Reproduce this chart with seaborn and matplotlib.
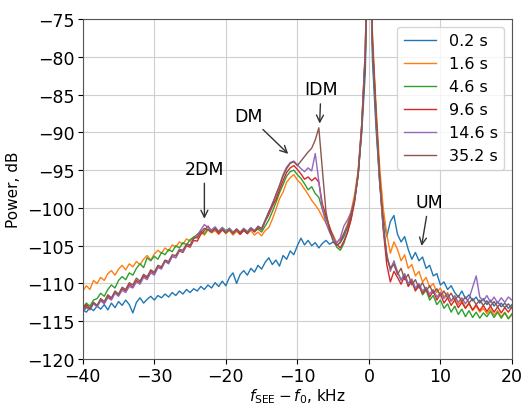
import numpy as np
import pandas as pd
import matplotlib
matplotlib.use("Agg")
import matplotlib.pyplot as plt
import seaborn as sns

# frequency grid, kHz (0.5 kHz sampling from -40 to 20)
freq = np.arange(-40, 20.001, 0.5)

labels = ["0.2 s", "1.6 s", "4.6 s", "9.6 s", "14.6 s", "35.2 s"]

p_02 = [
    -113.5, -113.8, -113.2, -113.6, -113.0, -113.4, -112.8, -113.5, -112.6, -113.2,
    -112.4, -112.9, -112.2, -112.8, -113.9, -112.5, -111.9, -112.6, -112.1, -111.7,
    -112.2, -111.6, -111.9, -111.4, -111.8, -111.2, -111.6, -111.0, -111.4, -110.8,
    -111.2,
    -110.7, -111.0, -110.4, -110.8, -110.2, -110.6, -109.9, -110.4, -109.7, -110.3,
    -109.2, -108.6, -110.0, -108.8, -108.3, -108.9, -108.0, -108.5, -107.6, -108.1,
    -107.2, -106.6, -107.5, -106.9, -107.7, -106.3, -106.8, -105.7, -106.2, -105.0,
    -104.0, -104.9, -104.3, -105.0, -104.6, -105.3, -104.7, -104.3, -104.8, -104.5,
    -105.0, -104.6, -103.8, -102.6, -101.0, -98.8, -95.5, -90.0, -82.0, -58.0,
    -80.5, -89.5, -96.5, -101.0, -103.8, -101.8, -101.0, -103.5, -104.5, -103.8,
    -105.5, -106.8, -105.9, -107.0, -106.5, -108.0, -107.6, -109.0, -108.7, -110.2,
    -109.8, -110.8, -110.3, -111.2, -111.8, -111.0, -112.0, -111.5, -112.3, -111.8,
    -112.6, -112.0, -112.8, -112.2, -113.0, -112.4, -113.1, -112.6, -113.3, -112.8,
]

p_16 = [
    -111.0, -110.3, -110.8, -109.6, -110.0, -109.2, -109.6, -108.7, -108.3, -108.9,
    -108.1, -107.6, -108.2, -107.4, -107.8, -107.1, -107.5, -106.8, -106.3, -106.9,
    -106.1, -105.6, -106.0, -105.3, -105.7, -104.9, -105.2, -104.5, -104.8, -104.1,
    -104.4,
    -103.8, -104.0, -103.2, -103.6, -102.9, -103.3, -103.0, -103.5, -102.9, -103.4,
    -103.0, -103.6, -103.1, -103.5, -102.9, -103.4, -103.0, -103.6, -103.2, -103.7,
    -103.0, -102.6, -101.5, -100.2, -98.8, -97.9, -96.6, -96.0, -95.6, -96.3,
    -96.8, -97.5, -98.2, -99.0, -99.6, -100.3, -101.2, -102.0, -102.9, -103.6,
    -104.6, -104.2, -103.4, -102.2, -100.5, -98.2, -95.0, -88.8, -79.0, -55.0,
    -77.0, -86.5, -94.5, -100.0, -103.5, -106.0, -104.5, -105.5, -107.0, -106.2,
    -108.0, -107.5, -109.0, -108.4, -109.8, -109.2, -110.5, -110.0, -111.2, -110.6,
    -111.8, -111.2, -112.4, -111.8, -112.8, -112.2, -113.2, -112.7, -113.6, -113.0,
    -113.8, -113.3, -114.0, -113.4, -114.2, -113.6, -114.4, -113.8, -114.6, -114.2,
]

p_46 = [
    -113.2, -112.6, -113.0, -112.2, -112.0, -111.3, -111.7, -110.8, -110.2, -110.6,
    -109.6, -109.1, -109.5, -108.6, -108.9, -108.0, -107.4, -107.9, -106.6, -107.0,
    -106.4, -106.8, -105.9, -106.2, -105.5, -105.8, -105.0, -105.3, -104.6, -104.9,
    -104.2,
    -103.9, -103.5, -103.1, -103.4, -102.8, -103.2, -102.7, -103.1, -102.6, -103.0,
    -102.7, -103.2, -102.8, -103.3, -102.9, -103.4, -102.7, -103.1, -102.8, -103.2,
    -102.4, -101.6, -100.5, -99.3, -98.0, -96.9, -95.8, -95.2, -95.0, -95.6,
    -96.1, -96.8, -97.6, -97.2, -98.1, -98.6, -100.2, -101.4, -102.6, -103.8,
    -105.2, -105.6, -104.7, -103.2, -101.4, -99.0, -95.6, -89.5, -80.0, -56.0,
    -79.0, -88.5, -96.5, -102.5, -106.5, -108.0, -107.2, -108.5, -109.5, -108.8,
    -110.2, -109.6, -110.8, -110.2, -111.5, -110.9, -112.2, -111.6, -112.8, -112.2,
    -113.3, -112.7, -113.8, -113.0, -114.1, -113.4, -114.4, -113.6, -114.5, -113.8,
    -114.6, -113.9, -114.4, -113.7, -114.5, -113.8, -114.6, -113.9, -114.7, -114.0,
]

p_96 = [
    -113.4, -112.8, -113.3, -112.6, -113.0, -112.2, -112.6, -111.7, -112.1, -111.2,
    -111.6, -110.7, -111.0, -110.1, -110.5, -109.6, -109.9, -109.0, -109.3, -108.4,
    -108.7, -107.8, -107.9, -107.0, -107.3, -106.4, -106.6, -105.7, -105.9, -105.0,
    -105.2,
    -104.3, -104.4, -103.5, -103.0, -102.4, -103.1, -102.8, -103.4, -102.9, -103.3,
    -102.8, -103.4, -102.9, -103.5, -103.0, -103.4, -102.7, -103.2, -102.6, -102.9,
    -101.8, -100.9, -99.8, -98.9, -97.6, -96.4, -95.3, -94.7, -94.4, -94.9,
    -95.5, -96.2, -95.9, -96.4, -96.0, -96.6, -99.5, -101.0, -102.5, -103.9,
    -104.8, -105.3, -104.4, -103.3, -101.6, -99.2, -95.4, -89.0, -79.5, -54.0,
    -78.0, -87.5, -96.0, -102.8, -107.5, -109.8, -108.4, -109.2, -110.1, -109.0,
    -110.4, -109.7, -111.0, -110.3, -111.3, -110.6, -111.8, -111.0, -112.2, -111.4,
    -112.6, -111.9, -112.9, -112.2, -113.2, -112.5, -113.3, -112.6, -113.5, -112.8,
    -113.6, -112.9, -113.7, -113.0, -113.8, -113.1, -113.9, -113.2, -113.8, -113.1,
]

p_146 = [
    -113.8, -113.2, -113.5, -112.7, -113.1, -112.3, -112.7, -111.9, -112.2, -111.3,
    -111.7, -110.9, -111.2, -110.4, -110.6, -109.8, -110.1, -109.2, -109.5, -108.6,
    -108.9, -107.9, -108.1, -107.1, -107.4, -106.4, -106.6, -105.6, -105.8, -104.8,
    -105.0,
    -104.1, -103.6, -102.9, -102.2, -102.6, -102.9, -102.5, -103.1, -102.6, -103.2,
    -102.7, -103.3, -102.8, -103.2, -102.7, -103.1, -102.6, -103.0, -102.4, -102.8,
    -101.6, -100.6, -99.4, -98.4, -97.0, -95.6, -94.6, -94.0, -93.8, -94.3,
    -94.8, -95.2, -94.7, -95.1, -92.8, -96.5, -100.2, -102.0, -103.2, -104.0,
    -104.6, -104.0, -102.4, -101.6, -100.6, -98.8, -95.4, -89.0, -79.0, -53.0,
    -78.5, -88.0, -96.5, -102.5, -106.0, -108.4, -107.0, -108.5, -109.6, -108.7,
    -110.0, -109.4, -110.6, -110.0, -111.0, -110.5, -111.4, -110.8, -111.8, -111.2,
    -112.0, -111.4, -112.3, -111.6, -112.5, -111.9, -112.7, -112.0, -110.5, -109.0,
    -111.8, -112.3, -111.6, -112.5, -111.8, -112.6, -111.9, -112.5, -111.8, -112.2,
]

p_352 = [
    -113.6, -113.0, -113.4, -112.5, -112.9, -112.0, -112.4, -111.5, -111.9, -111.0,
    -111.4, -110.5, -110.8, -109.9, -110.2, -109.3, -109.7, -108.8, -109.1, -108.2,
    -108.5, -107.6, -107.8, -106.9, -107.1, -106.2, -106.3, -105.5, -105.6, -104.8,
    -104.9,
    -104.0, -103.9, -103.2, -102.7, -102.9, -103.2, -102.7, -103.2, -102.8, -103.3,
    -102.9, -103.4, -102.8, -103.3, -102.8, -103.3, -102.8, -103.1, -102.5, -102.7,
    -101.7, -100.5, -99.6, -98.2, -97.1, -95.8, -94.8, -94.1, -93.9, -94.4,
    -93.8, -93.2, -92.6, -92.1, -91.0, -89.4, -95.0, -100.5, -103.0, -104.4,
    -105.0, -104.5, -103.4, -102.4, -100.9, -98.9, -95.7, -89.5, -79.8, -54.5,
    -78.0, -87.5, -96.0, -101.8, -106.5, -108.0, -107.5, -108.8, -108.0, -109.5,
    -108.8, -110.2, -109.5, -110.6, -109.9, -111.0, -110.3, -111.3, -110.7, -111.6,
    -111.0, -111.9, -111.3, -112.2, -111.6, -112.4, -111.8, -112.6, -112.0, -112.8,
    -112.2, -112.9, -112.3, -113.0, -112.4, -113.1, -112.6, -113.2, -112.7, -113.3,
]

series = [p_02, p_16, p_46, p_96, p_146, p_352]
frames = []
for lab, vals in zip(labels, series):
    frames.append(pd.DataFrame({"f": freq, "P": np.array(vals), "t": lab}))
df = pd.concat(frames, ignore_index=True)

fig = plt.figure(figsize=(5.24, 4.10), dpi=100)
ax = fig.add_axes([0.158, 0.122, 0.819, 0.829])

sns.lineplot(data=df, x="f", y="P", hue="t", palette="tab10",
             linewidth=1.0, ax=ax, estimator=None, sort=False)

ax.set_xlim(-40, 20)
ax.set_ylim(-120, -75)
ax.set_xticks([-40, -30, -20, -10, 0, 10, 20])
ax.set_yticks(np.arange(-120, -74, 5))
ax.grid(True, color="#cfcfcf", linewidth=0.8)
ax.tick_params(labelsize=12.5, pad=2.5)
for s in ax.spines.values():
    s.set_color("#555555")
ax.set_xlabel(r"$f_{\mathrm{SEE}} - f_0$, kHz", fontsize=11, labelpad=1)
ax.set_ylabel("Power, dB", fontsize=11)

leg = ax.legend(loc="upper right", fontsize=11.5, title=None, framealpha=0.8,
                labelspacing=0.5)

arrow = dict(arrowstyle="->", color="#333333", lw=1.0)
ax.annotate("2DM", xy=(-23, -101.8), xytext=(-23, -96.0), ha="center", va="bottom",
            fontsize=12.5, arrowprops=arrow)
ax.annotate("DM", xy=(-11.0, -93.1), xytext=(-16.8, -87.8), ha="center", va="center",
            fontsize=12.5, arrowprops=arrow)
ax.annotate("IDM", xy=(-6.9, -89.2), xytext=(-6.7, -84.3), ha="center", va="center",
            fontsize=12.5, arrowprops=arrow)
ax.annotate("UM", xy=(7.3, -105.4), xytext=(8.4, -99.2), ha="center", va="center",
            fontsize=12.5, arrowprops=arrow)

fig.savefig("out.png", dpi=100)
